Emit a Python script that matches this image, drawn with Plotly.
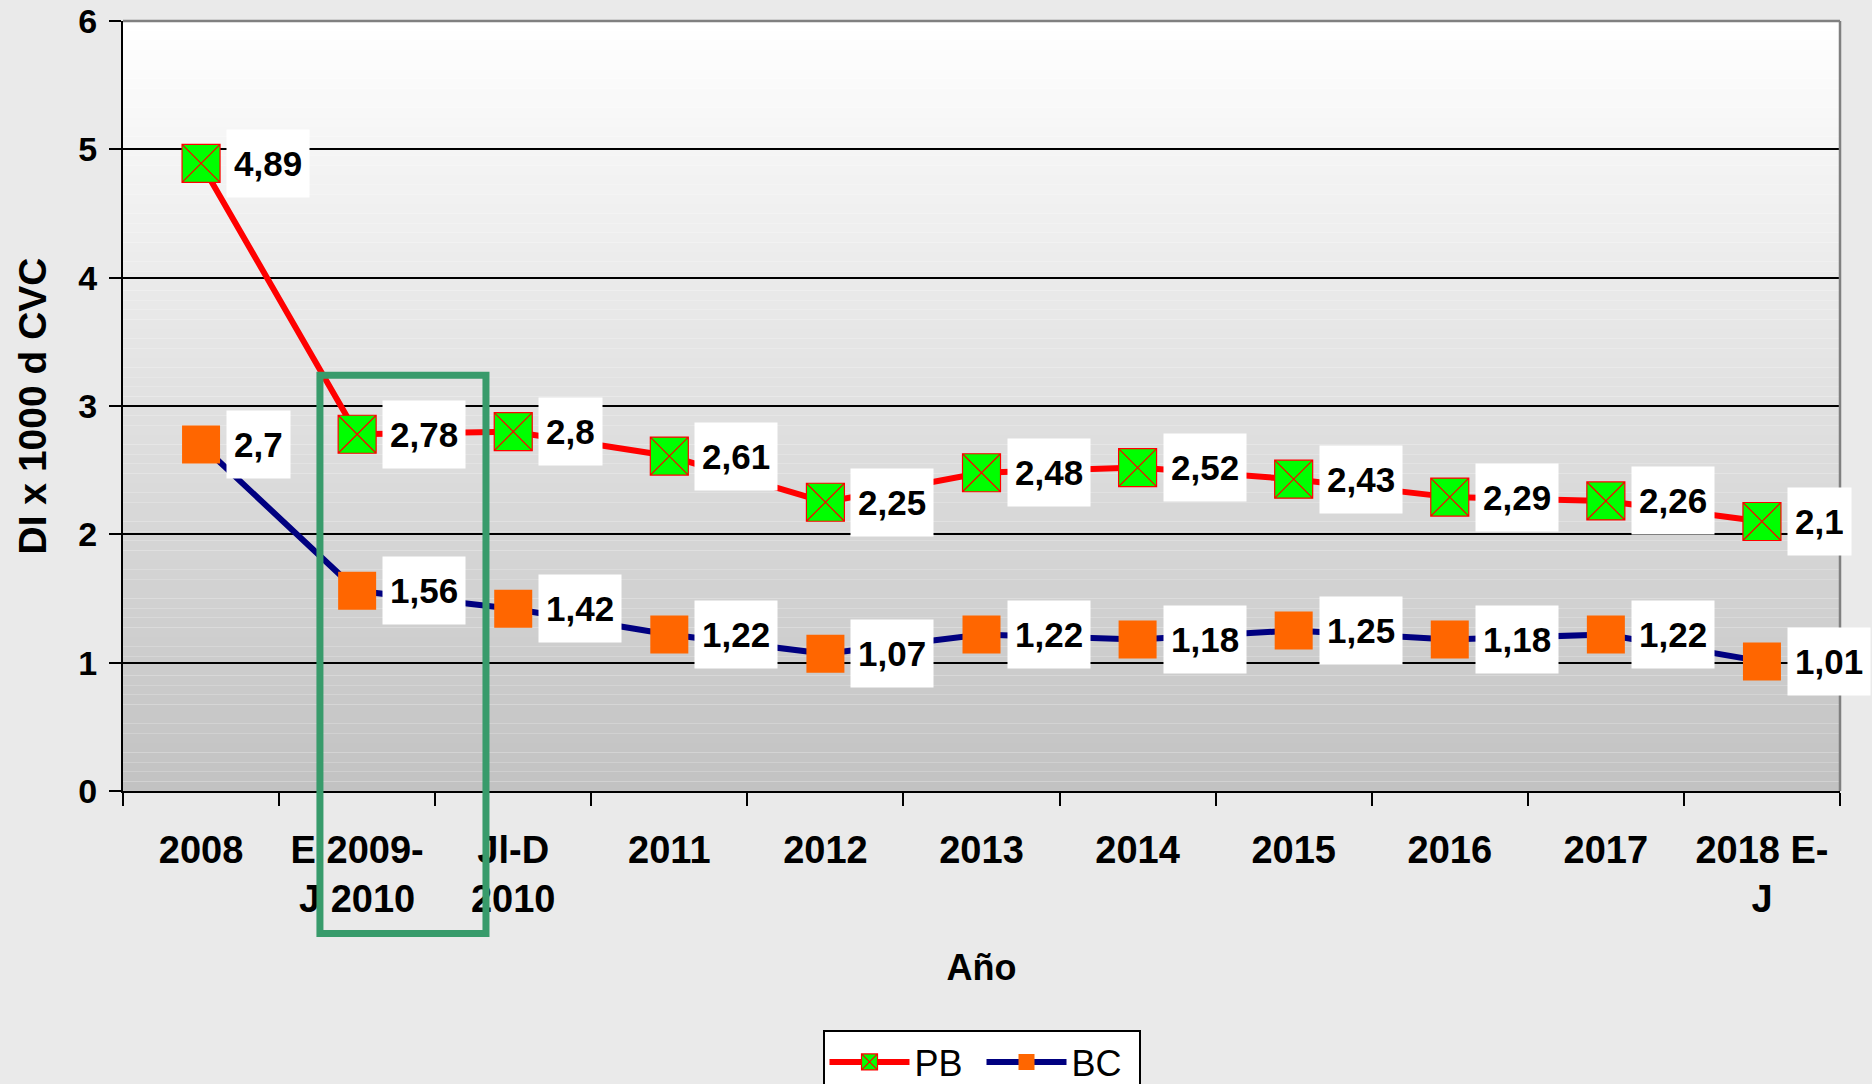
import plotly.graph_objects as go

categories = ["2008", "E 2009-<br>J 2010", "Jl-D<br>2010", "2011", "2012", "2013",
              "2014", "2015", "2016", "2017", "2018 E-<br>J"]
pb_values = [4.89, 2.78, 2.8, 2.61, 2.25, 2.48, 2.52, 2.43, 2.29, 2.26, 2.1]
bc_values = [2.7, 1.56, 1.42, 1.22, 1.07, 1.22, 1.18, 1.25, 1.18, 1.22, 1.01]
y_ticks = [0, 1, 2, 3, 4, 5, 6]

FONT = "Arial, Liberation Sans, sans-serif"
W, H = 1872, 1084
ML, MR, MT, MB = 123, 32, 21, 293

def fmt(v):
    return ("%g" % v).replace(".", ",")

fig = go.Figure()
fig.add_trace(go.Scatter(
    x=categories, y=pb_values, name="PB", mode="lines+markers",
    line=dict(color="#FF0000", width=6),
    marker=dict(symbol="square-x", size=38, color="#00FF00",
                line=dict(color="#FF0000", width=1.2)),
))
fig.add_trace(go.Scatter(
    x=categories, y=bc_values, name="BC", mode="lines+markers",
    line=dict(color="#000080", width=6),
    marker=dict(symbol="square", size=38, color="#FF6600", line=dict(width=0)),
))

annotations = []
for series in (pb_values, bc_values):
    for i, v in enumerate(series):
        annotations.append(dict(
            x=i, y=v, xref="x", yref="y", text=fmt(v), showarrow=False,
            xanchor="left", yanchor="middle", xshift=25,
            bgcolor="white", borderpad=7, height=53,
            font=dict(family=FONT, size=35, color="black", weight="bold"),
        ))

shapes = []
N = 80
for i in range(N):
    f = (i + 0.5) / N
    g = int(round(194 + (255 - 194) * f))
    shapes.append(dict(type="rect", xref="x domain", yref="y domain",
                       x0=0, x1=1, y0=i / N, y1=(i + 1) / N,
                       fillcolor=f"rgb({g},{g},{g})", line=dict(width=0),
                       layer="below"))
# top / right border
shapes.append(dict(type="line", xref="x domain", yref="y domain", x0=0, x1=1, y0=1, y1=1,
                   line=dict(color="#808080", width=2.5), layer="above"))
shapes.append(dict(type="line", xref="x domain", yref="y domain", x0=1, x1=1, y0=0, y1=1,
                   line=dict(color="#808080", width=2.5), layer="above"))
# green highlight rectangle
shapes.append(dict(type="rect", xref="paper", yref="paper",
                   x0=0.1147, x1=0.2114, y0=-0.185, y1=0.540,
                   line=dict(color="#389B6B", width=7), fillcolor="rgba(0,0,0,0)",
                   layer="above"))

fig.update_layout(
    width=W, height=H,
    margin=dict(l=ML, r=MR, t=MT, b=MB, pad=0, autoexpand=False),
    paper_bgcolor="#EAEAEA", plot_bgcolor="white",
    font=dict(family=FONT, color="black"),
    showlegend=True,
    legend=dict(orientation="h", x=0.5, xanchor="center", y=-0.3104, yanchor="top",
                bgcolor="white", bordercolor="black", borderwidth=2,
                font=dict(family=FONT, size=36, color="black"),
                itemwidth=80, entrywidth=62),
    annotations=annotations,
    shapes=shapes,
)
fig.update_xaxes(
    type="category", range=[-0.5, 10.5], tickson="boundaries",
    ticks="outside", ticklen=13, tickwidth=2, tickcolor="black",
    showline=True, linecolor="black", linewidth=2, showgrid=False, zeroline=False,
    tickfont=dict(family=FONT, size=38, color="black", weight="bold"),
    ticklabelstandoff=24,
    title=dict(text="Año", font=dict(family=FONT, size=36, color="black", weight="bold"),
               standoff=36),
)
fig.update_yaxes(
    range=[0, 6], tickvals=y_ticks, ticks="outside", ticklen=12, tickwidth=2,
    tickcolor="black", showline=True, linecolor="black", linewidth=2,
    showgrid=True, gridcolor="black", gridwidth=1.5, zeroline=False,
    tickfont=dict(family=FONT, size=34, color="black", weight="bold"),
    ticklabelstandoff=5,
    title=dict(text="DI x 1000 d CVC", font=dict(family=FONT, size=39, color="black", weight="bold"),
               standoff=20),
)

fig.write_html("out.html", config={"displayModeBar": False},
               post_script="document.body.style.margin='0';document.body.style.overflow='hidden';")
